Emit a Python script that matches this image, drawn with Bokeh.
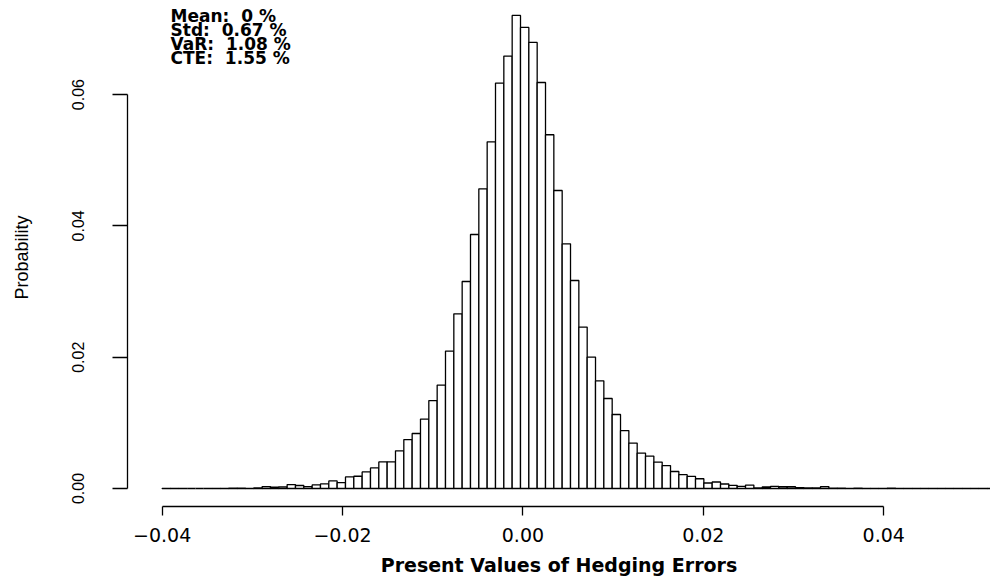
import numpy as np

from bokeh.core.properties import value
from bokeh.embed import file_html
from bokeh.models import (
    ColumnDataSource,
    CustomJSTickFormatter,
    FixedTicker,
    Range1d,
)
from bokeh.plotting import figure
from bokeh.resources import INLINE

# ── Histogram data ────────────────────────────────────────────────────────────
BIN_START = -0.04
BIN_WIDTH = 0.000924

PROBS = [
    0.00003, 0.00003, 0.0, 0.0, 0.0, 0.0, 0.00002, 0.00003, 0.00005, 0.00005,
    0.00003, 0.00008, 0.0003, 0.0002, 0.00024, 0.0006, 0.00046, 0.0003, 0.00055, 0.0007,
    0.00116, 0.00091, 0.00177, 0.00187, 0.00253, 0.00314, 0.00405, 0.00405, 0.00574, 0.00746,
    0.00838, 0.01057, 0.0134, 0.01575, 0.02093, 0.02661, 0.03153, 0.03869, 0.04565, 0.05281,
    0.06175, 0.06587, 0.07205, 0.07022, 0.06794, 0.06184, 0.05388, 0.04539, 0.03727, 0.03168,
    0.02459, 0.02002, 0.0164, 0.01371, 0.01127, 0.00883, 0.00692, 0.00539, 0.00494, 0.00402,
    0.0035, 0.00259, 0.0021, 0.00186, 0.00149, 0.00084, 0.00099, 0.00069, 0.00049, 0.00034,
    0.00053, 0.00008, 0.00023, 0.00034, 0.00027, 0.00027, 0.00012, 0.00008, 0.00008, 0.0003,
    0.00005, 0.00005, 0.00003, 0.00005, 0.00003, 0.00003, 0.00002, 0.00005, 0.00003, 0.00002,
    0.00002, 0.00003, 0.00002, 0.00002, 0.00003, 0.00002, 0.00002, 0.00002, 0.00002, 0.00002,
]

X_TICKS = [-0.04, -0.02, 0.0, 0.02, 0.04]
Y_TICKS = [0.0, 0.02, 0.04, 0.06]

STAT_NAMES = ["Mean", "Std", "VaR", "CTE"]
STAT_VALUES = ["0", "0.67", "1.08", "1.55"]

WIDE_FONT = "DejaVu Sans"
NARROW_FONT = "Liberation Sans"

# ── Source ────────────────────────────────────────────────────────────────────
left = BIN_START + BIN_WIDTH * np.arange(len(PROBS))
source = ColumnDataSource(dict(left=left, right=left + BIN_WIDTH, top=PROBS))

p = figure(
    width=990, height=587,
    x_range=Range1d(-0.04384, 0.05184),
    y_range=Range1d(-0.00274, 0.07311),
    output_backend="svg",
    toolbar_location=None,
    min_border_left=127, min_border_right=0,
    min_border_top=8, min_border_bottom=81,
)
p.outline_line_color = None
p.xgrid.visible = False
p.ygrid.visible = False
p.background_fill_color = "white"
p.border_fill_color = "white"

p.quad(
    left="left", right="right", top="top", bottom=0, source=source,
    fill_color="white", line_color="black", line_width=1.3,
)

# ── Stats block in the top left corner ────────────────────────────────────────
# non-breaking space keeps the double gap that svg would collapse
stat_text = [f"{n}:\u00a0 {v} %" for n, v in zip(STAT_NAMES, STAT_VALUES)]
stat_src = ColumnDataSource(dict(
    x=[-0.03907] * len(stat_text),
    y=[0.0720 - 0.00213 * i for i in range(len(stat_text))],
    text=stat_text,
))
p.text(
    x="x", y="y", text="text", source=stat_src,
    text_font=value(WIDE_FONT), text_font_style="bold",
    text_font_size="17px", text_baseline="middle", text_align="left",
    text_color="black",
)

# ── Axes (R style: lines only over the tick range) ────────────────────────────
minus_fmt = CustomJSTickFormatter(code="return tick.toFixed(2).replace('-', '\u2212');")

xa = p.xaxis[0]
xa.ticker = FixedTicker(ticks=X_TICKS)
xa.formatter = minus_fmt
xa.bounds = (X_TICKS[0], X_TICKS[-1])
xa.minor_tick_line_color = None
xa.major_tick_in = 0
xa.major_tick_out = 9
xa.axis_line_width = 1.3
xa.major_tick_line_width = 1.3
xa.major_label_standoff = 12
xa.major_label_text_font = WIDE_FONT
xa.major_label_text_font_size = "19px"
xa.major_label_text_color = "black"
xa.axis_label = "Present Values of Hedging Errors"
xa.axis_label_text_font = WIDE_FONT
xa.axis_label_text_font_style = "bold"
xa.axis_label_text_font_size = "19px"
xa.axis_label_text_color = "black"
xa.axis_label_standoff = 9

ya = p.yaxis[0]
ya.ticker = FixedTicker(ticks=Y_TICKS)
ya.formatter = minus_fmt
ya.bounds = (Y_TICKS[0], Y_TICKS[-1])
ya.minor_tick_line_color = None
ya.major_tick_in = 0
ya.major_tick_out = 15
ya.axis_line_width = 1.3
ya.major_tick_line_width = 1.3
ya.major_label_orientation = "vertical"
ya.major_label_standoff = 28
ya.major_label_text_font = NARROW_FONT
ya.major_label_text_font_size = "16px"
ya.major_label_text_color = "black"
ya.axis_label = "Probability"
ya.axis_label_text_font = NARROW_FONT
ya.axis_label_text_font_style = "normal"
ya.axis_label_text_font_size = "18px"
ya.axis_label_text_color = "black"
ya.axis_label_standoff = 38

open("out.html", "w").write(file_html(p, INLINE))
